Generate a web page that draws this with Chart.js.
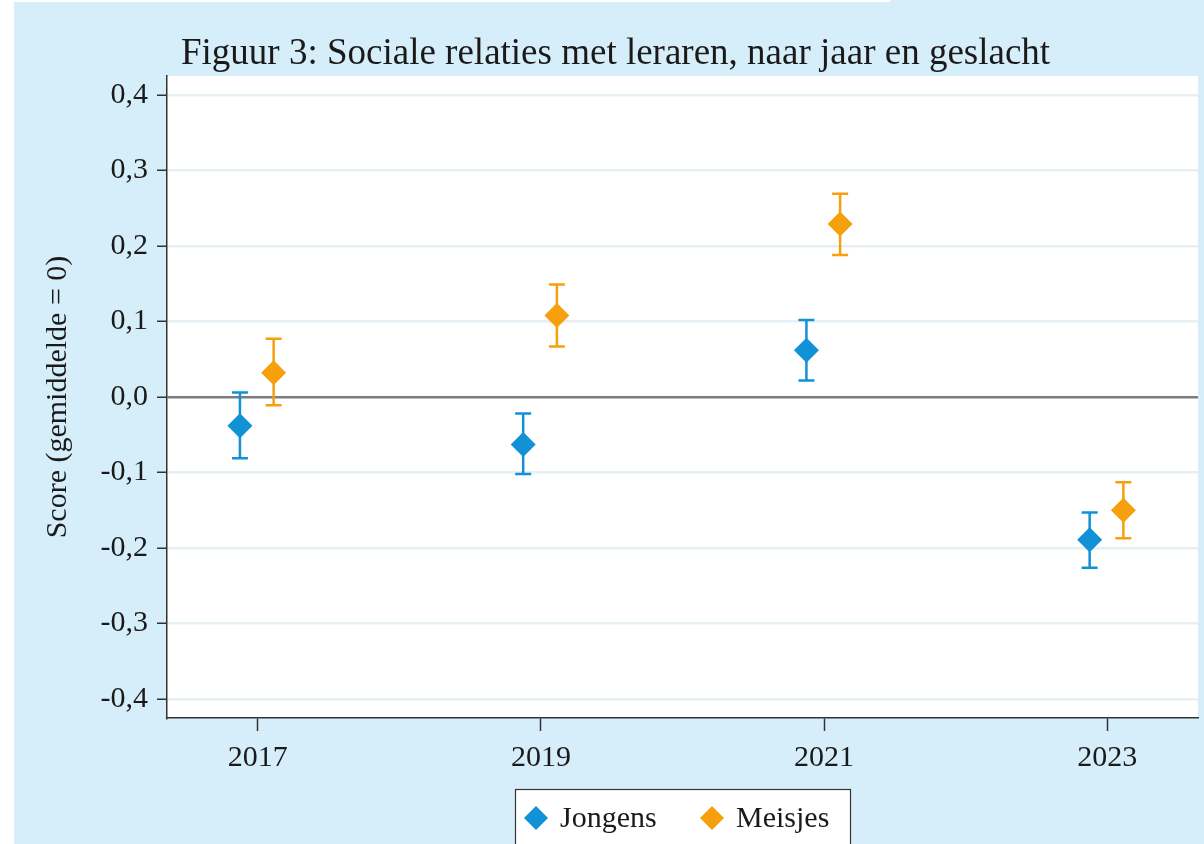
<!DOCTYPE html>
<html>
<head>
<meta charset="utf-8">
<title>Figuur 3</title>
<script src="https://cdn.jsdelivr.net/npm/chart.js@4/dist/chart.umd.min.js"></script>
<style>
  html, body { margin: 0; padding: 0; }
  body { width: 1204px; height: 844px; background: #d6eef9; position: relative; overflow: hidden; }
  .edge-left { position: absolute; left: 0; top: 0; width: 14px; height: 844px; background: #fff; }
  .edge-top { position: absolute; left: 0; top: 0; width: 890px; height: 2px; background: #fff; }
  #chart { position: absolute; left: 0; top: 0; }
</style>
</head>
<body>
<div class="edge-left"></div>
<div class="edge-top"></div>
<canvas id="chart" width="1204" height="844"></canvas>
<script>
// Data
const years = [2017, 2019, 2021, 2023];
const jongensMean = [-0.038, -0.063, 0.062, -0.189];
const jongensLow  = [-0.081, -0.102, 0.022, -0.226];
const jongensHigh = [0.006, -0.022, 0.102, -0.153];
const meisjesMean = [0.032, 0.108, 0.229, -0.150];
const meisjesLow  = [-0.011, 0.067, 0.188, -0.187];
const meisjesHigh = [0.077, 0.149, 0.269, -0.113];
const yTicks = [-0.4, -0.3, -0.2, -0.1, 0, 0.1, 0.2, 0.3, 0.4];
const xTicks = [2017, 2019, 2021, 2023];

const TITLE = 'Figuur 3: Sociale relaties met leraren, naar jaar en geslacht';
const SERIF = "'Liberation Serif', 'Times New Roman', serif";
const INK = '#1a1a1a';
const BLUE = '#1191d6';
const ORANGE = '#f5a00c';
const dodge = [-0.125, 0.113]; // jongens left, meisjes right of the year

const series = [
  { label: 'Jongens', color: BLUE, mean: jongensMean, lo: jongensLow, hi: jongensHigh },
  { label: 'Meisjes', color: ORANGE, mean: meisjesMean, lo: meisjesLow, hi: meisjesHigh }
];

function diamond(ctx, x, y, r) {
  ctx.beginPath();
  ctx.moveTo(x - r, y);
  ctx.lineTo(x, y - r);
  ctx.lineTo(x + r, y);
  ctx.lineTo(x, y + r);
  ctx.closePath();
  ctx.fill();
}

// white plot region
const plotBg = {
  id: 'plotBg',
  beforeDraw(chart) {
    const { ctx, chartArea: a } = chart;
    ctx.save();
    ctx.fillStyle = '#fff';
    ctx.fillRect(a.left, a.top, a.right - a.left, a.bottom - a.top);
    ctx.restore();
  }
};

// confidence intervals, drawn under the diamonds
const errorBars = {
  id: 'errorBars',
  beforeDatasetsDraw(chart) {
    const { ctx, scales: { x, y } } = chart;
    ctx.save();
    ctx.lineWidth = 2.5;
    series.forEach((s, i) => {
      ctx.strokeStyle = s.color;
      years.forEach((yr, j) => {
        const px = x.getPixelForValue(yr + dodge[i]);
        const top = y.getPixelForValue(s.hi[j]);
        const bot = y.getPixelForValue(s.lo[j]);
        ctx.beginPath();
        ctx.moveTo(px, top); ctx.lineTo(px, bot);
        ctx.moveTo(px - 8, top); ctx.lineTo(px + 8, top);
        ctx.moveTo(px - 8, bot); ctx.lineTo(px + 8, bot);
        ctx.stroke();
      });
    });
    ctx.restore();
  }
};

// title + boxed legend
const figureText = {
  id: 'figureText',
  afterDraw(chart) {
    const { ctx } = chart;
    ctx.save();
    ctx.fillStyle = INK;
    ctx.font = `37px ${SERIF}`;
    ctx.textBaseline = 'alphabetic';
    ctx.fillText(TITLE, 181, 64);

    // legend box
    ctx.fillStyle = '#fff';
    ctx.fillRect(515, 789, 335, 60);
    ctx.strokeStyle = '#333';
    ctx.lineWidth = 1.2;
    ctx.strokeRect(515.5, 789.5, 335, 60);
    ctx.font = `30px ${SERIF}`;
    ctx.textBaseline = 'middle';
    const itemX = [536, 712];
    chart.data.datasets.forEach((ds, i) => {
      ctx.fillStyle = ds.backgroundColor;
      diamond(ctx, itemX[i], 818, 12);
      ctx.fillStyle = INK;
      ctx.fillText(ds.label, itemX[i] + 24, 819);
    });
    ctx.restore();
  }
};

new Chart(document.getElementById('chart'), {
  type: 'scatter',
  data: {
    datasets: series.map((s, i) => ({
      label: s.label,
      data: years.map((yr, j) => ({ x: yr + dodge[i], y: s.mean[j] })),
      backgroundColor: s.color,
      borderColor: s.color,
      pointStyle: 'rectRot',
      pointRadius: 12.5,
      pointBorderWidth: 0,
      borderWidth: 0
    }))
  },
  options: {
    responsive: false,
    animation: false,
    layout: { autoPadding: false, padding: { left: 0, right: 6, top: 76, bottom: 56 } },
    plugins: {
      legend: { display: false },
      tooltip: { enabled: false },
      title: { display: false }
    },
    scales: {
      x: {
        type: 'linear',
        min: 2016.36,
        max: 2023.64,
        afterBuildTicks: scale => { scale.ticks = xTicks.map(v => ({ value: v })); },
        afterFit: scale => {
          scale.height = 70;
          scale.paddingLeft = 0;
          scale.paddingRight = 0;
        },
        border: { color: '#333', width: 1.5 },
        grid: { drawOnChartArea: false, drawTicks: true, tickLength: 13, tickColor: '#333', tickWidth: 1.5 },
        ticks: {
          color: INK,
          padding: 9,
          font: { family: SERIF, size: 30 },
          callback: v => String(v)
        }
      },
      y: {
        min: -0.425,
        max: 0.425,
        afterBuildTicks: scale => { scale.ticks = yTicks.map(v => ({ value: v })); },
        afterFit: scale => {
          scale.width = 167;
          scale.paddingTop = 0;
          scale.paddingBottom = 0;
        },
        border: { color: '#333', width: 1.5 },
        grid: {
          color: c => (c.tick && c.tick.value === 0 ? '#7c7c7c' : '#e6eff4'),
          lineWidth: 2.5,
          drawTicks: true,
          tickLength: 10,
          tickColor: '#333',
          tickWidth: 1.5
        },
        ticks: {
          color: INK,
          padding: 9,
          font: { family: SERIF, size: 30 },
          callback: v => v.toFixed(1).replace('.', ',')
        },
        title: {
          display: true,
          text: 'Score (gemiddelde = 0)',
          color: INK,
          font: { family: SERIF, size: 30 },
          padding: { top: 40, bottom: 0 }
        }
      }
    }
  },
  plugins: [plotBg, errorBars, figureText]
});
</script>
</body>
</html>
